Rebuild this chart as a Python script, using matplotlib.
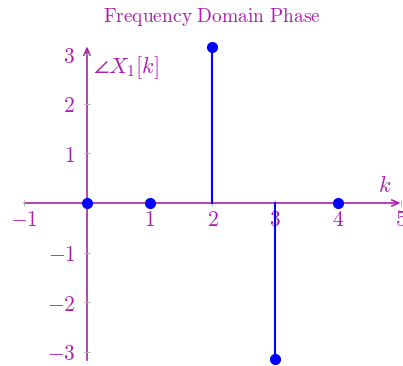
import numpy as np
import matplotlib
matplotlib.use("Agg")
import matplotlib.pyplot as plt

plt.rcParams['mathtext.fontset'] = 'cm'
plt.rcParams['font.family'] = 'serif'
plt.rcParams['font.serif'] = ['DejaVu Serif']

# phase of X_1[k]
k = [0, 1, 2, 3, 4]
phase = [0, 0, np.pi, -np.pi, 0]
xticks = [-1, 1, 2, 3, 4, 5]
yticks = [-3, -2, -1, 1, 2, 3]

axis_col = '#ad1fad'
stem_col = '#0000ff'
xmin, xmax = -1, 5
ymin, ymax = -3.17, 3.16

fig = plt.figure(figsize=(4.03, 3.66), dpi=100)
ax = fig.add_axes([0.0602, 0.0158, 0.934, 0.8577])
ax.set_xlim(xmin, xmax)
ax.set_ylim(ymin, ymax)

# axes through the origin, lines drawn as arrows
for name in ['left', 'bottom']:
    ax.spines[name].set_position(('data', 0))
    ax.spines[name].set_visible(False)
for name in ['top', 'right']:
    ax.spines[name].set_visible(False)

arrow = dict(arrowstyle='->,head_length=0.5,head_width=0.22', color=axis_col,
             lw=1.2, shrinkA=0, shrinkB=0)
ax.annotate('', xy=(xmax, 0), xytext=(xmin, 0), arrowprops=arrow, zorder=1)
ax.annotate('', xy=(0, ymax), xytext=(0, ymin), arrowprops=arrow, zorder=1)

ax.set_xticks(xticks)
ax.set_yticks(yticks)
ax.set_xticklabels([f'${t}$' for t in xticks])
ax.set_yticklabels([f'${t}$' for t in yticks])
ax.tick_params(axis='both', direction='inout', length=5, width=0.7,
               color='#b0b0b0', labelcolor=axis_col, labelsize=15.5)
ax.tick_params(axis='x', pad=2)
ax.tick_params(axis='y', pad=6)

# stems and markers
for kk, p in zip(k, phase):
    ax.plot([kk, kk], [0, p], color=stem_col, lw=1.5, zorder=3)
ax.plot(k, phase, 'o', color=stem_col, markersize=7, zorder=4, clip_on=False)

ax.text(0.09, 2.73, r'$\angle X_1[k]$', color=axis_col, fontsize=16,
        ha='left', va='center')
ax.text(4.75, 0.13, r'$k$', color=axis_col, fontsize=16, ha='center', va='bottom')

fig.text(0.526, 0.953, r'$\mathrm{Frequency\ Domain\ Phase}$', color=axis_col,
         fontsize=14, ha='center', va='center')

fig.savefig('out.png', dpi=100)
